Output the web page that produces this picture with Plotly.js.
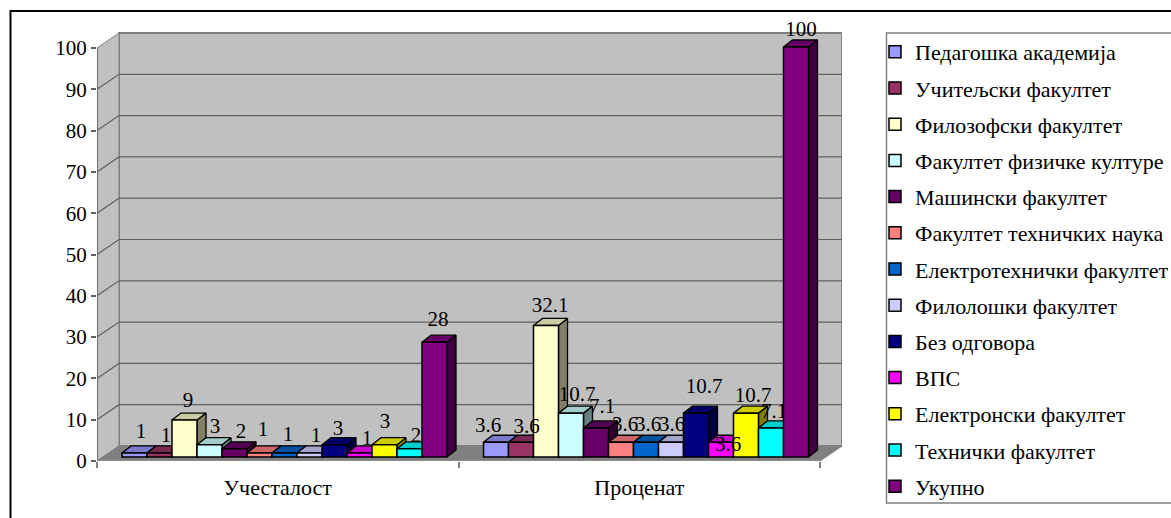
<!DOCTYPE html>
<html><head><meta charset="utf-8">
<script src="https://cdn.plot.ly/plotly-3.0.1.min.js"></script>
<style>html,body{margin:0;padding:0;background:#fff;overflow:hidden}#c{width:1171px;height:518px}</style>
</head><body><div id="c"></div>
<script>
(function(){
// ---- data ----
const categories = ['Учесталост', 'Проценат'];
const seriesNames = ['Педагошка академија','Учитељски факултет','Филозофски факултет','Факултет физичке културе','Машински факултет','Факултет техничких наука','Електротехнички факултет','Филолошки факултет','Без одговора','ВПС','Електронски факултет','Технички факултет','Укупно'];
const frequency = [1,1,9,3,2,1,1,1,3,1,3,2,28];
const percent = [3.6,3.6,32.1,10.7,7.1,3.6,3.6,3.6,10.7,3.6,10.7,7.1,100];
const yTicks = [0,10,20,30,40,50,60,70,80,90,100];

// ---- styles ----
const barColors = ['#9999FF','#993366','#FFFFCC','#CCFFFF','#660066','#FF8080','#0066CC','#CCCCFF','#000080','#FF00FF','#FFFF00','#00FFFF','#800080'];
const FONT = 'Liberation Serif, Times New Roman, serif';
// label nudges in px relative to the bar centre / default height
const nudgeX = [[6.5,6.5,3.5,5.5,6.5,3.5,3.5,6.5,3.5,7.5,0.5,6.5,3.5],[-8,5.5,4,6,6,4,2,1,8,7,7,3,5]];
const nudgeY = [[0,4,2,3,4,-2,3,4,5,7,-2,8,-1],[5,6,1,3,0,4,4,4,-5,24,4,5,4]];

// ---- geometry (page pixels) ----
const W=1171,H=518;
const L=97,R=842,T=20,B=461;        // plot area
const catPx=361.5, depthX=22, depthY=15, ppuWall=4.13;
const barBase=457, ppuBar=4.1, barPx=25, groupLeftPx=25, barDX=9, barDY=7;
const xU=p=>p/catPx;                // px to x units
const yU=p=>p/ppuWall;              // px to y units, wall axis
const y2U=p=>p/ppuBar;              // px to y units, bar axis
const px=p=>(p-L)/(R-L), py=p=>(B-p)/(B-T);
const dX=xU(depthX), dY=yU(depthY);
const frontEnd=2;

function shade(hex,f){
  const n=parseInt(hex.slice(1),16);
  const c=[n>>16&255,n>>8&255,n&255].map(v=>Math.round(v*f));
  return 'rgb('+c.join(',')+')';
}
const traces=[];
function poly(xs,ys,color,line,lw){
  traces.push({type:'scatter',mode:'lines',x:xs,y:ys,fill:'toself',fillcolor:color,line:{color:line,width:lw||1},showlegend:false,hoverinfo:'skip',cliponaxis:false});
}
function path(xs,ys,color,w){
  traces.push({type:'scatter',mode:'lines',x:xs,y:ys,line:{color:color,width:w},showlegend:false,hoverinfo:'skip',cliponaxis:false});
}
const yMax=yTicks[yTicks.length-1];
// back wall, side wall, floor
poly([dX,frontEnd+dX,frontEnd+dX,dX,dX],[dY,dY,yMax+dY,yMax+dY,dY],'#C0C0C0','#808080',2);
poly([0,dX,dX,0,0],[0,dY,yMax+dY,yMax,0],'#C0C0C0','#808080',1);
poly([0,dX,frontEnd+dX,frontEnd,0],[0,dY,dY,0,0],'#808080','#808080',1);
// grid
const gx=[],gy=[];
yTicks.slice(1,-1).forEach(v=>{gx.push(0,dX,frontEnd+dX,null);gy.push(v,v+dY,v+dY,null);});
path(gx,gy,'#606060',1.2);
path([0,0],[0,yMax],'#606060',1.5);
path([0,frontEnd],[0,0],'#909090',1.5);

// bars: faces and front on the bar axis
const dxB=xU(barDX), dyB=y2U(barDY), bw=xU(barPx);
const xOf=(c,i)=>c+xU(groupLeftPx)+(i+0.5)*bw;
seriesNames.forEach((name,i)=>{
  const vals=[frequency[i],percent[i]], col=barColors[i];
  const tx=[],ty=[],sx=[],sy=[];
  vals.forEach((v,c)=>{
    const a=xOf(c,i)-bw/2,b=xOf(c,i)+bw/2;
    tx.push(a,a+dxB,b+dxB,b,a,null); ty.push(v,v+dyB,v+dyB,v,v,null);
    sx.push(b,b+dxB,b+dxB,b,b,null); sy.push(0,dyB,v+dyB,v,0,null);
  });
  const face={type:'scatter',mode:'lines',fill:'toself',line:{color:'#000',width:1.3},showlegend:false,hoverinfo:'skip',xaxis:'x',yaxis:'y2',zorder:2*i};
  traces.push(Object.assign({},face,{x:sx,y:sy,fillcolor:shade(col,0.5)}));
  traces.push(Object.assign({},face,{x:tx,y:ty,fillcolor:shade(col,0.8)}));
  traces.push({type:'bar',name:name,x:[xOf(0,i),xOf(1,i)],y:vals,width:bw,xaxis:'x',yaxis:'y2',zorder:2*i+1,
    marker:{color:col,line:{color:'#000',width:1.5}},legendgroup:'g'+i,hoverinfo:'skip'});
});
// value labels
function labels(idx,z){
  const x=[],y=[],t=[];
  [frequency,percent].forEach((arr,c)=>idx.forEach(i=>{
    x.push(xOf(c,i)+xU(nudgeX[c][i]));
    y.push(arr[i]+y2U(20-nudgeY[c][i]));
    t.push(String(arr[i]));
  }));
  traces.push({type:'scatter',mode:'text',x:x,y:y,text:t,textposition:'middle center',textfont:{family:FONT,size:21,color:'#000'},
    showlegend:false,hoverinfo:'skip',xaxis:'x',yaxis:'y2',zorder:z,cliponaxis:false});
}
labels([0,1,2,3,4,5,6,7,8,9,10,12],100);
labels([11],23);

const layout={
  width:W,height:H,paper_bgcolor:'#fff',plot_bgcolor:'rgba(0,0,0,0)',
  margin:{l:L,r:W-R,t:T,b:H-B,pad:0,autoexpand:false},
  barmode:'overlay',showlegend:true,hovermode:false,
  font:{family:FONT,size:22,color:'#000'},
  xaxis:{range:[0,(R-L)/catPx],tickmode:'array',tickvals:[0.5,1.5],ticktext:categories,ticks:'',ticklen:0,showgrid:false,zeroline:false,showline:false,
    ticklabelstandoff:11,tickfont:{family:FONT,size:22,color:'#000'},
    minor:{tickmode:'array',tickvals:[0,1,2],ticks:'outside',ticklen:6,tickwidth:1.5,tickcolor:'#808080',showgrid:false}},
  yaxis:{range:[0,(B-T)/ppuWall],tickmode:'array',tickvals:yTicks,ticks:'outside',ticklen:5,tickwidth:1.5,tickcolor:'#606060',showgrid:false,zeroline:false,showline:false,
    tickfont:{family:FONT,size:21,color:'#000'}},
  yaxis2:{overlaying:'y',anchor:'x',side:'left',visible:false,range:[-(B-barBase)/ppuBar,(barBase-T)/ppuBar],showgrid:false,zeroline:false},
  legend:{x:px(875),xanchor:'left',y:py(31),yanchor:'top',bgcolor:'rgba(0,0,0,0)',borderwidth:0,font:{family:FONT,size:22,color:'#000'},
    tracegroupgap:4.6,maxheight:518,itemclick:false,itemdoubleclick:false},
  shapes:[
    {type:'rect',xref:'paper',yref:'paper',x0:px(10.5),x1:px(1200),y0:py(11),y1:py(560),line:{color:'#000',width:2},layer:'below'},
    {type:'rect',xref:'paper',yref:'paper',x0:px(886.5),x1:px(1200),y0:py(33),y1:py(503),line:{color:'#808080',width:1.5},fillcolor:'#fff',layer:'below'}
  ]
};
Plotly.newPlot('c',traces,layout,{displayModeBar:false,responsive:false});
})();
</script></body></html>
